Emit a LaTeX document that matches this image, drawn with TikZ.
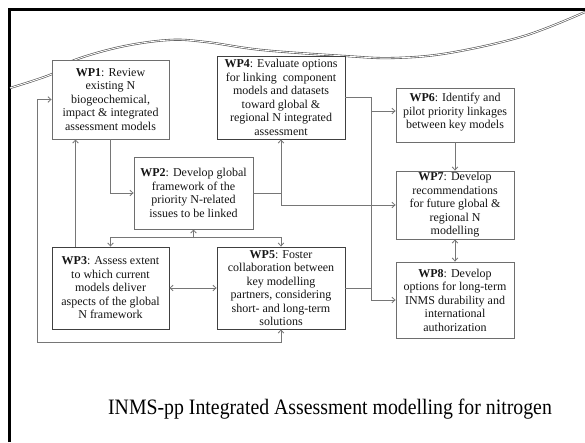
\documentclass[tikz,border=0pt]{standalone}
\usepackage{fontspec}
\setmainfont{Liberation Serif}
\usetikzlibrary{arrows.meta,calc}
\definecolor{boxgray}{HTML}{6E6E6E}
\definecolor{boxdark}{HTML}{404040}
\definecolor{linegray}{HTML}{767676}
\definecolor{wavegray}{HTML}{505050}
\definecolor{txt}{HTML}{151515}
\begin{document}
\begin{tikzpicture}[x=1pt,y=-1pt,
  >={Straight Barb[length=3pt,width=5.5pt]},
  wpbox/.style={draw=boxgray, fill=white, line width=0.9pt, inner sep=1pt,
    align=center, text=txt, font=\fontsize{12}{13.5}\selectfont},
  darkbox/.style={wpbox, draw=boxdark},
  conn/.style={draw=linegray, line width=0.8pt}]
\useasboundingbox[fill=white] (0,0) rectangle (585,442);
% frame
\draw[line width=3pt] (9,442) -- (9,9) -- (585,9);
% wavy line
\draw[wavegray, line width=0.6pt, double=white, double distance=0.9pt]
  plot[smooth, tension=0.6] coordinates {(10,88) (52,74) (72,61) (120,47) (169,40) (206,42) (262,50) (345,56) (393,58) (449,53) (524,36) (585,12)};
% boxes
\node[wpbox, minimum width=117pt, minimum height=79pt] (wp1) at (110.5,99.5)
  {\textbf{WP1}: Review\\existing N\\biogeochemical,\\impact \& integrated\\assessment models};
\node[darkbox, minimum width=128pt, minimum height=83pt] (wp4) at (281,97.5)
  {\textbf{WP4}: Evaluate options\\for linking\ \ component\\models and datasets\\toward global \&\\regional N integrated\\assessment};
\node[wpbox, minimum width=118pt, minimum height=54pt, text depth=8pt] (wp6) at (455,115)
  {\textbf{WP6}: Identify and\\pilot priority linkages\\between key models};
\node[wpbox, minimum width=119pt, minimum height=72pt] (wp2) at (193.5,193)
  {\textbf{WP2}: Develop global\\framework of the\\priority N-related\\issues to be linked};
\node[wpbox, minimum width=118pt, minimum height=68pt] (wp7) at (455,205)
  {\textbf{WP7}: Develop\\recommendations\\for future global \&\\regional N\\modelling};
\node[darkbox, minimum width=117pt, minimum height=82pt] (wp3) at (110.5,288)
  {\textbf{WP3}: Assess extent\\to which current\\models deliver\\aspects of the global\\N framework};
\node[darkbox, minimum width=128pt, minimum height=82pt] (wp5) at (281,288)
  {\textbf{WP5}: Foster\\collaboration between\\key modelling\\partners, considering\\short- and long-term\\solutions};
\node[wpbox, minimum width=118pt, minimum height=76pt] (wp8) at (455,300)
  {\textbf{WP8}: Develop\\options for long-term\\INMS durability and\\international\\authorization};
% helper coordinates
\coordinate (trunk) at (371,0);
\coordinate (loopL) at (37,342);
% connectors
\draw[conn,->] (wp1.south) |- (wp2.west);
\draw[conn,->] ([xshift=-35pt]wp3.north) -- ([xshift=-35pt]wp1.south);
\draw[conn,<->] (wp5.south) |- (loopL) |- (wp1.west);
\draw[conn,<->] (wp3.north) -- ++(0,-9) -| (wp5.north);
\draw[conn,->] ([yshift=-9pt]wp2.south) -- (wp2.south);
\draw[conn,<->] (wp3.east) -- (wp5.west);
\draw[conn,->] (wp2.east) -| (wp4.south);
\draw[conn,->] (wp2.east -| wp4.south) |- (wp7.west);
\draw[conn,->] (wp4.east) -- (wp4.east -| trunk) |- (wp8.west);
\draw[conn,<-] ([yshift=4pt]wp6.west) -- ++(-25,0);
\draw[conn] (wp5.east) -- (wp5.east -| trunk);
\draw[conn,->] (wp6.south) -- (wp7.north);
\draw[conn,<->] (wp7.south) -- (wp8.north);
% caption
\node[font=\fontsize{22}{26}\selectfont, text=black] (cap) at (330,409)
  {\scalebox{0.9}[1]{INMS-pp Integrated Assessment modelling for nitrogen}};
\end{tikzpicture}
\end{document}
